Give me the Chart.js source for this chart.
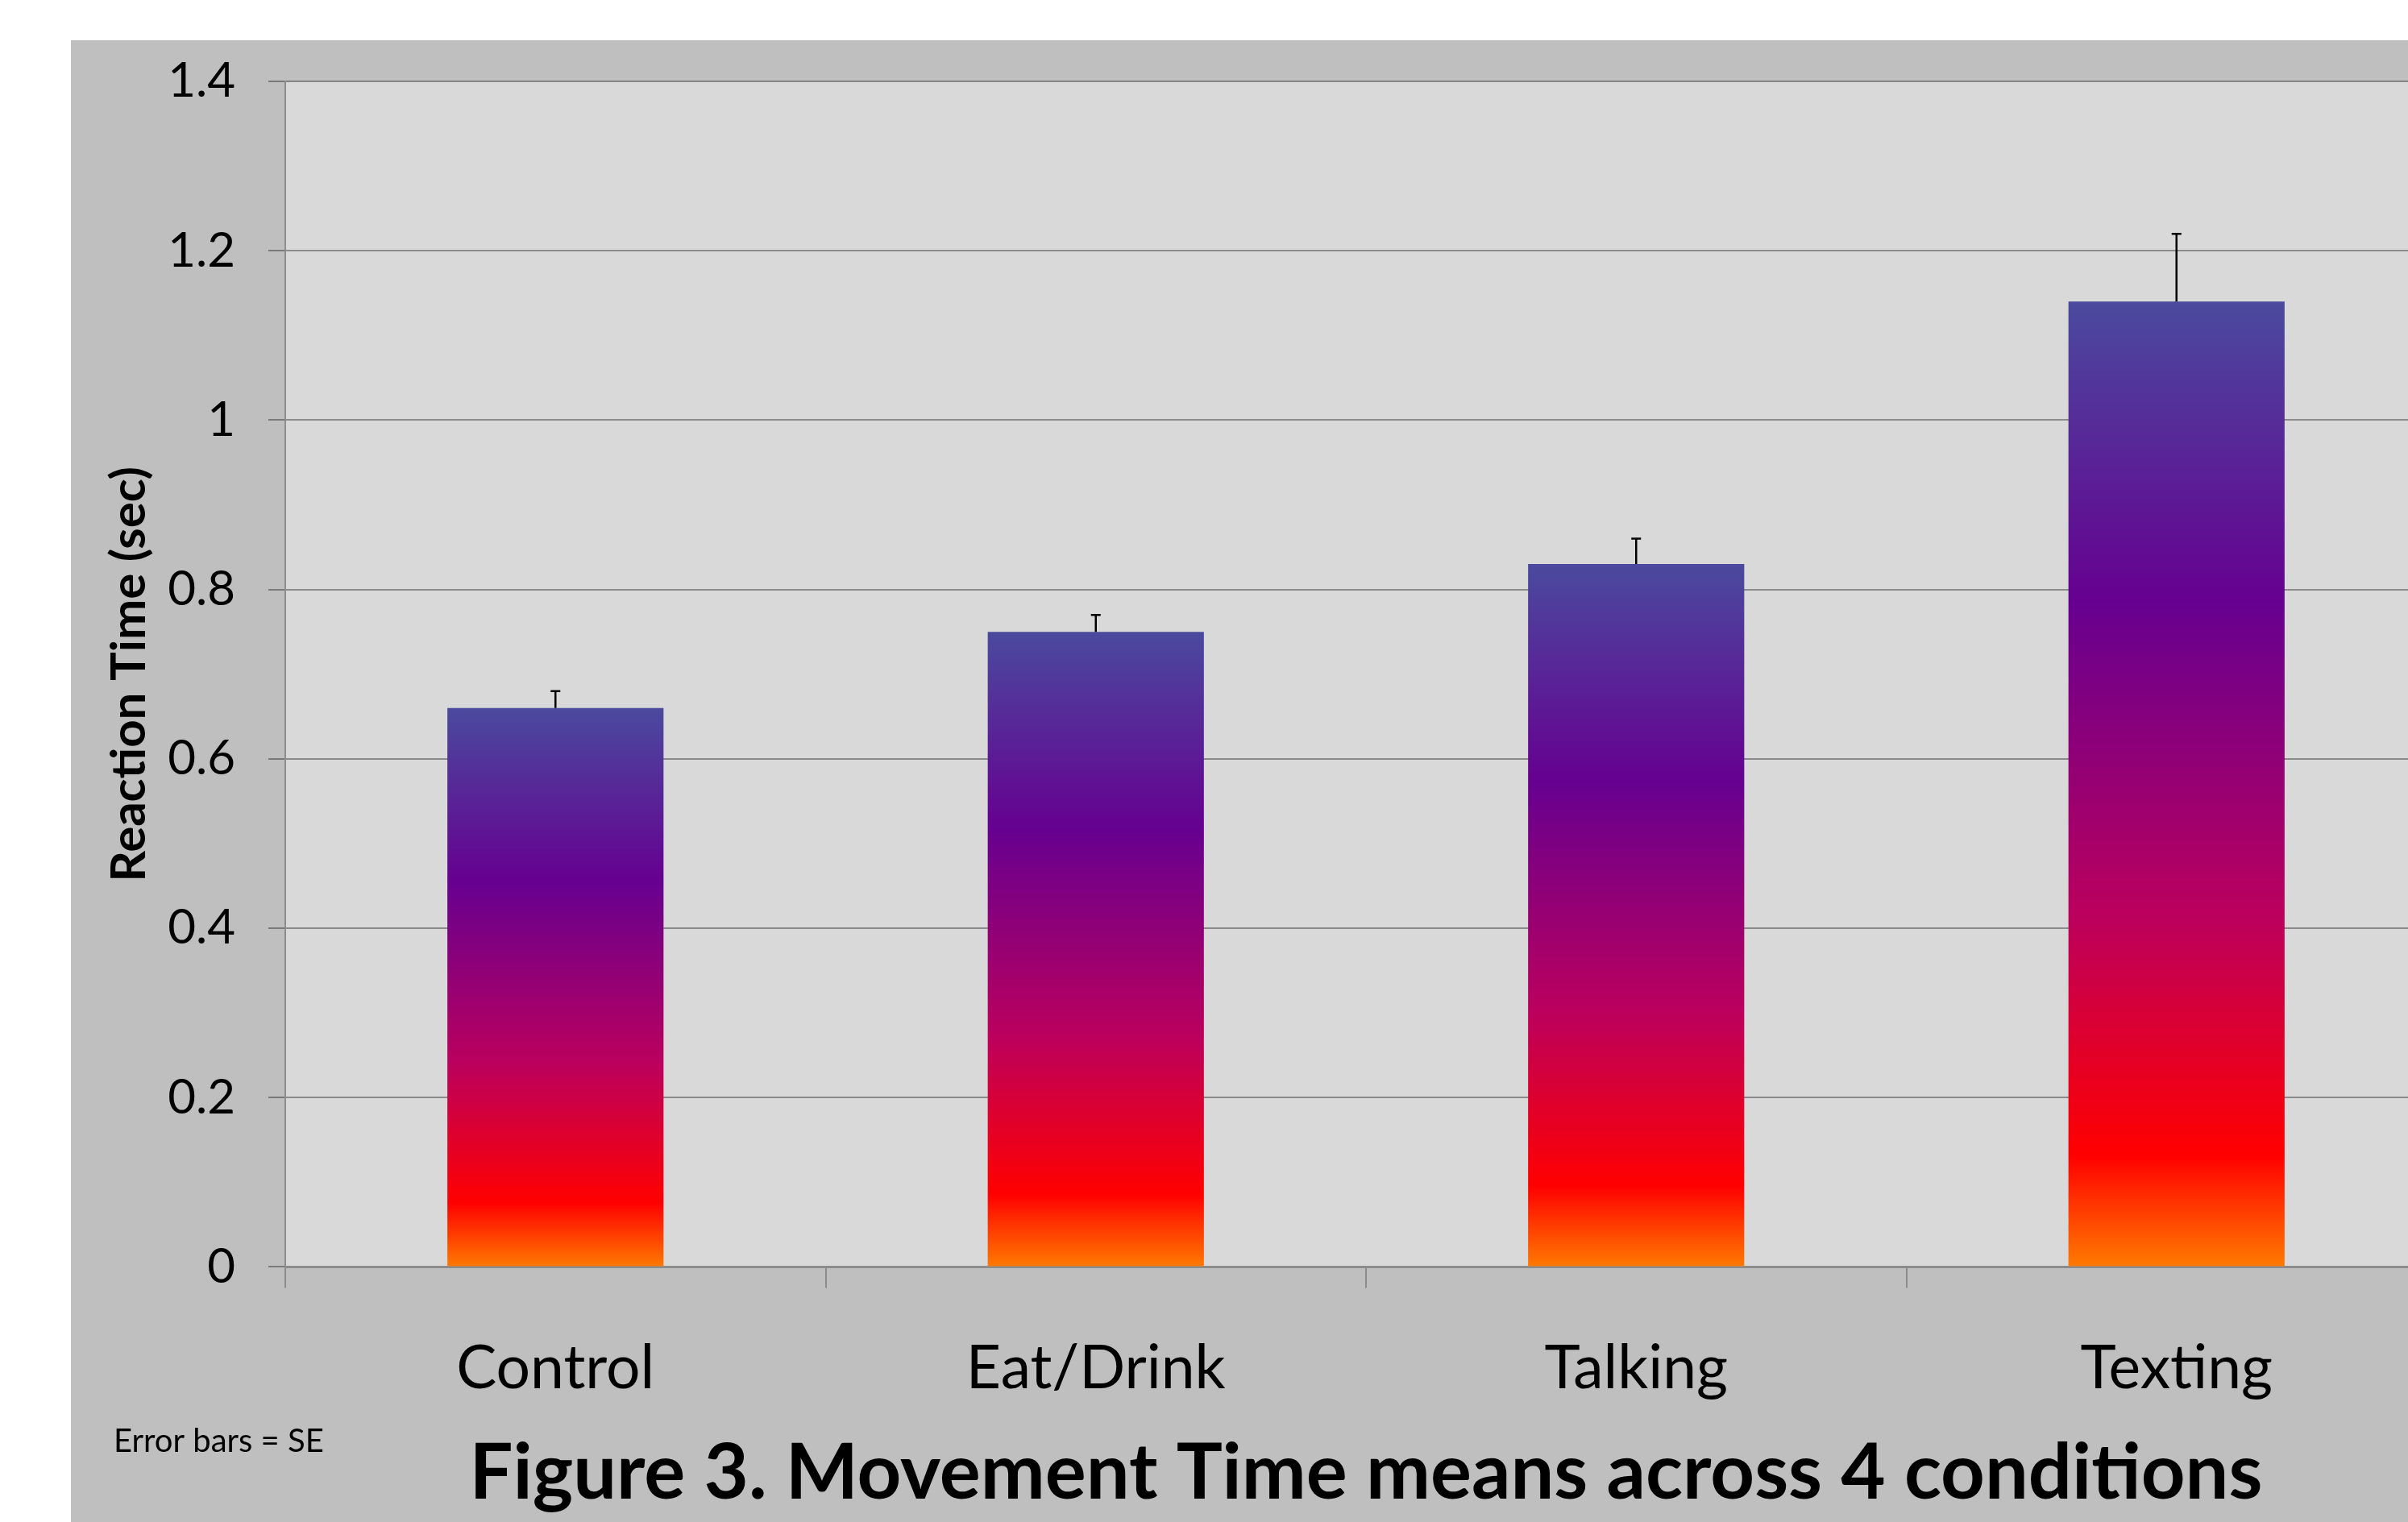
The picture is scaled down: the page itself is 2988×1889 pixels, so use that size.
<!DOCTYPE html>
<html lang="en">
<head>
  <meta charset="UTF-8">
  <title>Figure 3. Movement Time means across 4 conditions</title>
  <script src="https://cdn.jsdelivr.net/npm/chart.js"></script>
  <style>
    html, body { margin: 0; padding: 0; background: #fff; overflow: hidden; }
    body { width: 2988px; height: 1889px; position: relative; }
    #grafik { position: absolute; left: 88px; top: 50px; background: #bfbfbf; }
  </style>
</head>
<body>
  <canvas id="grafik" width="3000" height="1900"></canvas>

  <script>
    // data
    const kondisi = ['Control', 'Eat/Drink', 'Talking', 'Texting'];
    const rataRata = [0.66, 0.75, 0.83, 1.14];
    const galatBaku = [0.02, 0.02, 0.03, 0.08];
    const sumbuY = { min: 0, max: 1.4, step: 0.2 };

    // bar fill: blue-violet at the top down to orange at the base
    const warnaGradasi = [
      [0, '#4a4a9e'],
      [0.31, '#660090'],
      [0.64, '#bc005c'],
      [0.885, '#ff0000'],
      [1, '#ff7a00']
    ];

    const fontUtama = 'Lato, "Open Sans", sans-serif';

    function isiBatang(c) {
      const chart = c.chart;
      const y = chart.scales.y;
      if (!chart.chartArea || !y || c.type !== 'data') return '#660090';
      const atas = y.getPixelForValue(c.raw);
      const bawah = y.getPixelForValue(0);
      const g = chart.ctx.createLinearGradient(0, atas, 0, bawah);
      warnaGradasi.forEach(([p, w]) => g.addColorStop(p, w));
      return g;
    }

    // plot area background
    const latarPlot = {
      id: 'latarPlot',
      beforeDraw(chart) {
        const { ctx, chartArea: a } = chart;
        ctx.save();
        ctx.fillStyle = '#d9d9d9';
        ctx.fillRect(a.left, a.top, a.right - a.left, a.bottom - a.top);
        ctx.restore();
      }
    };

    // standard error bars (upper half only, as in the original)
    const batangGalat = {
      id: 'batangGalat',
      afterDatasetsDraw(chart) {
        const { ctx } = chart;
        const y = chart.scales.y;
        const meta = chart.getDatasetMeta(0);
        ctx.save();
        ctx.strokeStyle = '#000';
        ctx.lineWidth = 2.5;
        meta.data.forEach((bar, i) => {
          const yAtas = y.getPixelForValue(rataRata[i] + galatBaku[i]);
          ctx.beginPath();
          ctx.moveTo(bar.x, bar.y);
          ctx.lineTo(bar.x, yAtas);
          ctx.moveTo(bar.x - 6, yAtas);
          ctx.lineTo(bar.x + 6, yAtas);
          ctx.stroke();
        });
        ctx.restore();
      }
    };

    // footnote at lower left
    const catatan = {
      id: 'catatan',
      afterDraw(chart) {
        const { ctx } = chart;
        ctx.save();
        ctx.fillStyle = '#000';
        ctx.font = '40px ' + fontUtama;
        ctx.textAlign = 'left';
        ctx.textBaseline = 'alphabetic';
        ctx.fillText('Error bars = SE', 53, 1752);
        ctx.restore();
      }
    };

    const ctx = document.getElementById('grafik').getContext('2d');
    const chart = new Chart(ctx, {
      type: 'bar',
      data: {
        labels: kondisi,
        datasets: [{
          label: 'Movement Time',
          data: rataRata,
          backgroundColor: isiBatang,
          borderWidth: 0,
          categoryPercentage: 1,
          barPercentage: 0.4
        }]
      },
      options: {
        responsive: false,
        animation: false,
        layout: { padding: { top: 51, right: 52, left: 0, bottom: 0 } },
        plugins: {
          legend: { display: false },
          tooltip: { enabled: false },
          title: {
            display: true,
            position: 'bottom',
            fullSize: false,
            text: 'Figure 3. Movement Time means across 4 conditions',
            color: '#000',
            font: { family: fontUtama, size: 95.5, weight: 'bold', lineHeight: 1.2 },
            padding: { top: 0, bottom: 63 }
          }
        },
        scales: {
          x: {
            grid: {
              drawOnChartArea: false,
              drawTicks: true,
              tickLength: 26,
              color: '#8c8c8c',
              lineWidth: 2
            },
            border: { color: '#8c8c8c', width: 3 },
            ticks: {
              color: '#000',
              padding: 55,
              font: { family: fontUtama, size: 75 }
            },
            afterFit(s) { s.height = 200; }
          },
          y: {
            z: 1,
            min: sumbuY.min,
            max: sumbuY.max,
            grid: {
              color: 'rgba(0,0,0,0.36)',
              lineWidth: 2,
              tickLength: 21
            },
            border: { color: '#8c8c8c', width: 2 },
            ticks: {
              stepSize: sumbuY.step,
              color: '#000',
              padding: 41,
              font: { family: fontUtama, size: 60 },
              callback: (v) => String(Number(v.toFixed(1)))
            },
            title: {
              display: true,
              text: 'Reaction Time (sec)',
              color: '#000',
              font: { family: fontUtama, size: 60, weight: 'bold', lineHeight: 1.2 },
              padding: { top: 37, bottom: 0 }
            },
            afterFit(s) {
              s.width = 266;
              s.paddingTop = 0;
              s.paddingBottom = 0;
            }
          }
        }
      },
      plugins: [latarPlot, batangGalat, catatan]
    });
  </script>
</body>
</html>
